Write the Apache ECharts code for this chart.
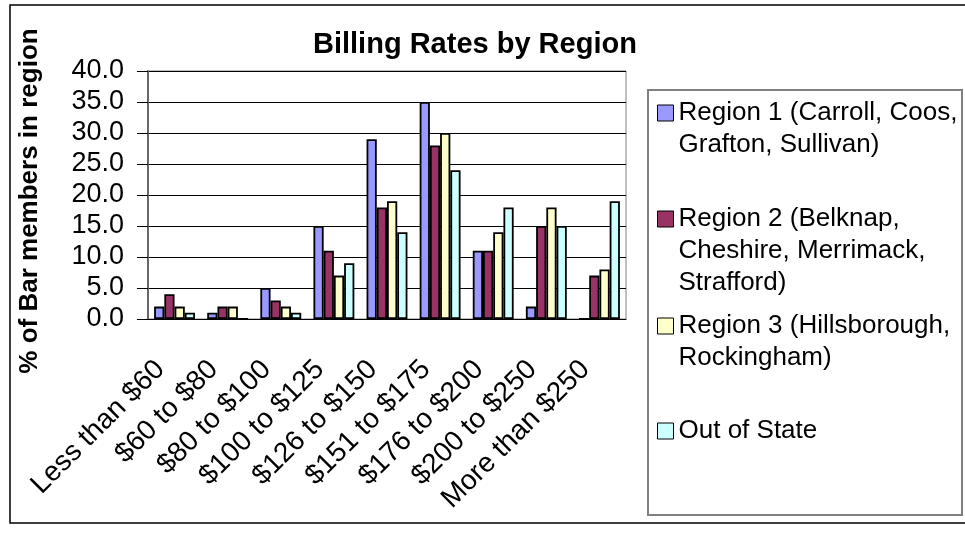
<!DOCTYPE html>
<html>
<head>
<meta charset="utf-8">
<title>Billing Rates by Region</title>
<script src="https://cdn.jsdelivr.net/npm/echarts@6/dist/echarts.min.js"></script>
<style>
  html, body { margin: 0; padding: 0; background: #fff; }
  #chart { width: 965px; height: 535px; }
</style>
</head>
<body>
<div id="chart"></div>
<script>
// categories and values (% of bar members)
const categories = ['Less than $60', '$60 to $80', '$80 to $100', '$100 to $125', '$126 to $150',
  '$151 to $175', '$176 to $200', '$200 to $250', 'More than $250'];
const region1 = [2, 1, 5, 15, 29, 35, 11, 2, 0];
const region2 = [4, 2, 3, 11, 18, 28, 11, 15, 7];
const region3 = [2, 2, 2, 7, 19, 30, 14, 18, 8];
const outOfState = [1, 0, 1, 9, 14, 24, 18, 15, 19];
const seriesNames = [
  'Region 1 (Carroll, Coos,\nGrafton, Sullivan)',
  'Region 2 (Belknap,\nCheshire, Merrimack,\nStrafford)',
  'Region 3 (Hillsborough,\nRockingham)',
  'Out of State'
];
const yMin = 0;
const yMax = 40;
const yStep = 5;

const FONT = '"Liberation Sans", Arial, sans-serif';
const colors = ['#9999FF', '#993366', '#FFFFCC', '#CCFFFF'];
const seriesData = [region1, region2, region3, outOfState];
const LINE_H = 32;

const chart = echarts.init(document.getElementById('chart'));

// one legend per item so the pitch matches the Excel box;
// blank lines in front keep the icon beside the first line
const legendTops = [65, 139, 278, 415];
const legends = seriesNames.map((name, i) => ({
  data: [name],
  left: 657,
  top: legendTops[i],
  orient: 'vertical',
  padding: 0,
  itemWidth: 16,
  itemHeight: 16,
  icon: 'rect',
  selectedMode: false,
  formatter: n => '\n'.repeat(n.split('\n').length - 1) + n,
  itemStyle: { borderColor: '#000', borderWidth: 1 },
  textStyle: { fontFamily: FONT, fontSize: 26, color: '#000', lineHeight: LINE_H }
}));

const option = {
  animation: false,
  backgroundColor: '#fff',
  title: {
    text: 'Billing Rates by Region',
    left: 313,
    top: 30,
    padding: 0,
    textStyle: { fontFamily: FONT, fontSize: 29, fontWeight: 'bold', color: '#000' }
  },
  legend: legends,
  grid: {
    left: 148,
    top: 71,
    width: 478,
    height: 248,
    show: true,
    borderColor: '#808080',
    borderWidth: 1,
    outerBoundsMode: 'none'
  },
  xAxis: {
    type: 'category',
    data: categories,
    axisLine: { lineStyle: { color: '#000', width: 1 } },
    axisTick: { length: 8, lineStyle: { color: '#808080' } },
    axisLabel: {
      rotate: 45, interval: 0, fontFamily: FONT, fontSize: 28, color: '#000',
      margin: 12, verticalAlign: 'top', padding: [0, 34, 0, 0]
    }
  },
  yAxis: {
    type: 'value',
    min: yMin,
    max: yMax,
    interval: yStep,
    name: '% of Bar members in region',
    nameLocation: 'middle',
    nameGap: 105,
    nameMoveOverlap: false,
    nameTextStyle: {
      fontFamily: FONT, fontSize: 26, fontWeight: 'bold', color: '#000',
      padding: [0, 12, 0, 0]
    },
    axisLine: { show: true, lineStyle: { color: '#666', width: 2 } },
    axisTick: { show: true, length: 11, lineStyle: { color: '#000' } },
    axisLabel: { formatter: v => v.toFixed(1), fontFamily: FONT, fontSize: 27, color: '#000', margin: 24 },
    splitLine: { lineStyle: { color: '#000', width: 1 } }
  },
  series: seriesNames.map((name, i) => ({
    name: name,
    type: 'bar',
    data: seriesData[i],
    barGap: '0%',
    barCategoryGap: '23%',
    itemStyle: { color: colors[i], borderColor: '#000', borderWidth: 1.8 }
  })),
  graphic: [
    // outer chart frame
    { type: 'rect', silent: true, shape: { x: 10, y: 5, width: 965, height: 518 },
      style: { fill: 'none', stroke: '#000', lineWidth: 1.5 } },
    // legend frame
    { type: 'rect', silent: true, shape: { x: 648, y: 90, width: 314, height: 425 },
      style: { fill: 'none', stroke: '#808080', lineWidth: 2 } }
  ]
};

chart.setOption(option);
</script>
</body>
</html>
